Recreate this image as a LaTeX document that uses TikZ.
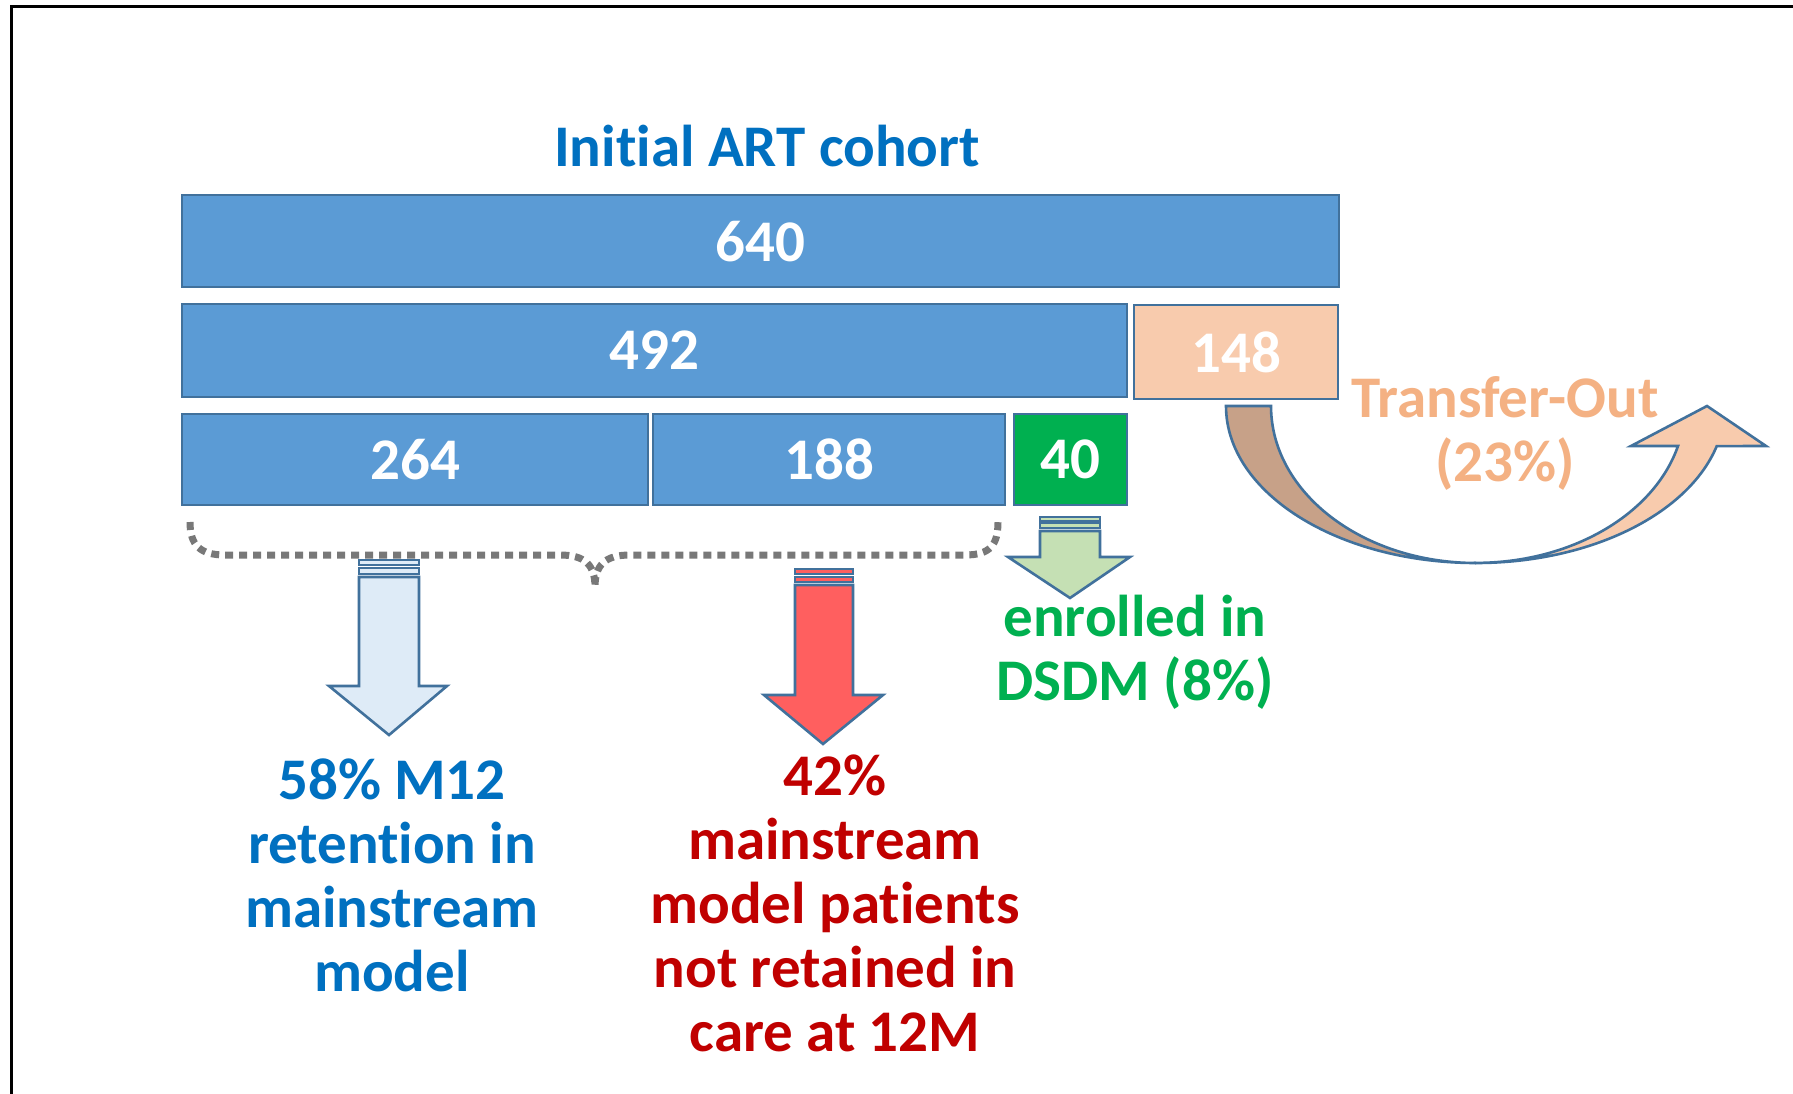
\documentclass[tikz,border=0pt]{standalone}
\usepackage{fontspec}
\setmainfont{Carlito}[Ligatures=NoCommon]
\definecolor{barblue}{RGB}{91,155,213}
\definecolor{edge}{RGB}{65,113,156}
\definecolor{peach}{RGB}{248,203,173}
\definecolor{brownish}{RGB}{199,161,136}
\definecolor{boxgreen}{RGB}{0,176,80}
\definecolor{titleblue}{RGB}{0,112,192}
\definecolor{darkred}{RGB}{192,0,0}
\definecolor{txtgreen}{RGB}{0,176,80}
\definecolor{txtpeach}{RGB}{244,177,131}
\definecolor{lightblue}{RGB}{222,235,247}
\definecolor{redarrow}{RGB}{255,95,95}
\definecolor{lightgreen}{RGB}{197,224,180}
\definecolor{bracegray}{RGB}{120,120,120}
\newcommand\bigfont{\fontsize{59}{64}\selectfont\bfseries}
\begin{document}
\begin{tikzpicture}[x=1pt,y=1pt,
  bar/.style={draw=edge, line width=2.2pt, fill=barblue, text=white, font=\bigfont,
    inner sep=0pt, anchor=north west},
  label/.style={font=\bigfont, align=center, inner sep=0pt},
  arrowshape/.style={draw=edge, line width=2.6pt, line join=miter}]
\useasboundingbox (0,0) rectangle (1793,-1094);
\fill[white] (0,0) rectangle (1793,-1094);
\draw[line width=3pt] (11,-1094) -- (11,-7) -- (1793,-7);

% title
\node[label, text=titleblue] (title) at (767,-146) {Initial ART cohort};

% bars
\node[bar, minimum width=1157pt, minimum height=92pt] (b640) at (181,-194) {640};
\node[bar, minimum width=945pt, minimum height=93pt] (b492) at (181,-303) {492};
\node[bar, fill=peach, minimum width=204pt, minimum height=94pt] (b148) at (1133,-304) {148};
\node[bar, minimum width=466pt, minimum height=91pt] (b264) at (181,-413) {264};
\node[bar, minimum width=352pt, minimum height=91pt] (b188) at (652,-413) {188};
\node[bar, fill=boxgreen, minimum width=113pt, minimum height=91pt] (b40) at (1013,-413) {40};

% dotted brace
\draw[bracegray, line width=7pt, dash pattern=on 8pt off 6pt]
  (190,-522) .. controls (190,-545) and (200,-555) .. (225,-555) -- (560,-555)
  .. controls (585,-555) and (595,-565) .. (595,-587)
  .. controls (595,-565) and (605,-555) .. (630,-555) -- (965,-555)
  .. controls (990,-555) and (998,-545) .. (998,-522);

% blue arrow
\draw[arrowshape, fill=lightblue] (359,-560) rectangle (419,-565);
\draw[arrowshape, fill=lightblue] (359,-568) rectangle (419,-574);
\draw[arrowshape, fill=lightblue] (359,-577) -- (419,-577) -- (419,-686) -- (447,-686)
  -- (389,-735) -- (329,-686) -- (359,-686) -- cycle;

% red arrow
\draw[arrowshape, fill=redarrow] (795,-569) rectangle (853,-574);
\draw[arrowshape, fill=redarrow] (795,-577) rectangle (853,-582);
\draw[arrowshape, fill=redarrow] (795,-585) -- (853,-585) -- (853,-695) -- (883,-695)
  -- (823,-744) -- (764,-695) -- (795,-695) -- cycle;

% green arrow
\draw[arrowshape, fill=lightgreen] (1040,-517) rectangle (1100,-521);
\draw[arrowshape, fill=lightgreen] (1040,-523) rectangle (1100,-528);
\draw[arrowshape, fill=lightgreen] (1040,-531) -- (1100,-531) -- (1100,-557) -- (1130,-557)
  -- (1070,-598) -- (1008,-557) -- (1040,-557) -- cycle;

% curved transfer-out arrow
\draw[arrowshape, fill=brownish] (1226,-406) -- (1271,-406)
  arc[start angle=180, end angle=270, x radius=205, y radius=157]
  arc[start angle=270, end angle=180, x radius=250, y radius=157] -- cycle;
\draw[arrowshape, fill=peach] (1476,-563)
  arc[start angle=-90, end angle=-14.8, x radius=249, y radius=157]
  -- (1766,-446) -- (1707,-406) -- (1631,-446) -- (1678,-446)
  arc[start angle=-14.8, end angle=-90, x radius=209, y radius=157] -- cycle;

% labels
\node[label, text=titleblue] (ret) at (392,-875)
  {58\% M12\\retention in\\mainstream\\model};
\node[label, text=darkred] (notret) at (835,-903)
  {42\%\\mainstream\\model patients\\not retained in\\care at 12M};
\node[label, text=txtgreen] (dsdm) at (1135,-652) {enrolled in\\DSDM (8\%)};
\node[label, text=txtpeach] (tout) at (1505,-433) {Transfer-Out\\(23\%)};
\end{tikzpicture}
\end{document}
